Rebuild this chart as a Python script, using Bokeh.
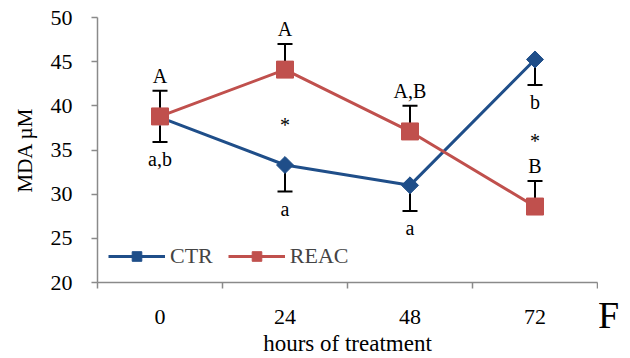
import math
from bokeh.plotting import figure
from bokeh.layouts import row
from bokeh.models import (ColumnDataSource, Range1d, FixedTicker, Whisker, TeeHead,
                          Legend, LegendItem, Label)
from bokeh.core.properties import value
from bokeh.embed import file_html
from bokeh.resources import INLINE

# ---- data ----
hours = ["0", "24", "48", "72"]
ctr = [38.7, 33.3, 31.0, 45.25]
reac = [38.8, 44.1, 37.1, 28.6]
ctr_err = [2.8, 3.0, 2.9, 2.9]
reac_err = [2.9, 2.9, 2.9, 2.9]
ctr_letters = ["a,b", "a", "a", "b"]
reac_letters = ["A", "A", "A,B", "B"]
signif = ["", "*", "", "*"]
y_ticks = [20, 25, 30, 35, 40, 45, 50]
panel_letter = "F"

FONT = "Liberation Serif"
BLUE = "#1f4e89"
RED = "#c0504d"
GRAY = "#8a8a8a"

xs = [i + 0.5 for i in range(len(hours))]

src = ColumnDataSource(dict(
    x=xs, ctr=ctr, reac=reac,
    ctr_lo=[c - e for c, e in zip(ctr, ctr_err)],
    reac_hi=[r + e for r, e in zip(reac, reac_err)],
    ctr_lab=ctr_letters, reac_lab=reac_letters,
    sig=signif, mid=[(c + r) / 2 for c, r in zip(ctr, reac)],
))

p = figure(width=598, height=358, output_backend="svg", toolbar_location=None,
           x_range=Range1d(0, len(hours)), y_range=Range1d(y_ticks[0], y_ticks[-1]),
           min_border_left=97, min_border_right=1, min_border_top=17, min_border_bottom=75)
p.outline_line_color = None
p.grid.visible = False
p.background_fill_color = "white"
p.border_fill_color = "white"

# x axis: categories at band centers, ticks at band boundaries
xa = p.xaxis[0]
xa.ticker = FixedTicker(ticks=xs, minor_ticks=list(range(len(hours) + 1)))
xa.major_label_overrides = {x: h for x, h in zip(xs, hours)}
xa.major_tick_line_color = None
xa.minor_tick_in = 0
xa.minor_tick_out = 6
xa.minor_tick_line_color = GRAY
xa.minor_tick_line_width = 1.5
xa.axis_line_color = GRAY
xa.axis_line_width = 1.5
xa.major_label_standoff = 21
xa.major_label_text_font = FONT
xa.major_label_text_font_size = "22px"
xa.major_label_text_color = "black"
xa.axis_label = "hours of treatment"
xa.axis_label_text_font = FONT
xa.axis_label_text_font_style = "normal"
xa.axis_label_text_font_size = "23px"
xa.axis_label_text_color = "black"
xa.axis_label_standoff = 4

ya = p.yaxis[0]
ya.ticker = FixedTicker(ticks=y_ticks)
ya.major_tick_in = 0
ya.major_tick_out = 6
ya.major_tick_line_color = GRAY
ya.major_tick_line_width = 1.5
ya.minor_tick_line_color = None
ya.axis_line_color = GRAY
ya.axis_line_width = 1.5
ya.major_label_standoff = 19
ya.major_label_text_font = FONT
ya.major_label_text_font_size = "22px"
ya.major_label_text_color = "black"
ya.axis_label = "MDA \u00b5M"
ya.axis_label_text_font = FONT
ya.axis_label_text_font_style = "normal"
ya.axis_label_text_font_size = "21px"
ya.axis_label_text_color = "black"
ya.axis_label_standoff = 11

# error bars (one-sided)
w_reac = Whisker(source=src, base="x", lower="reac", upper="reac_hi", dimension="height",
                 line_color="black", line_width=2, level="underlay",
                 upper_head=TeeHead(size=15, line_color="black", line_width=2), lower_head=None)
w_ctr = Whisker(source=src, base="x", lower="ctr_lo", upper="ctr", dimension="height",
                line_color="black", line_width=2, level="underlay",
                lower_head=TeeHead(size=15, line_color="black", line_width=2), upper_head=None)
p.add_layout(w_reac)
p.add_layout(w_ctr)

l_ctr = p.line("x", "ctr", source=src, line_color=BLUE, line_width=3)
l_reac = p.line("x", "reac", source=src, line_color=RED, line_width=3)
m_ctr = p.scatter("x", "ctr", source=src, marker="square", angle=math.pi / 4, size=12,
                  fill_color=BLUE, line_color=BLUE)
m_reac = p.scatter("x", "reac", source=src, marker="square", size=17,
                   fill_color=RED, line_color=RED)

# significance letters
p.text("x", "reac_hi", text="reac_lab", source=src, text_font=value(FONT),
       text_font_size="20px", text_align="center", text_baseline="alphabetic",
       y_offset=-15, text_color="black")
p.text("x", "ctr_lo", text="ctr_lab", source=src, text_font=value(FONT),
       text_font_size="20px", text_align="center", text_baseline="top",
       y_offset=6, text_color="black")
p.text("x", "mid", text="sig", source=src, text_font=value(FONT),
       text_font_size="20px", text_align="center", text_baseline="alphabetic",
       y_offset=8, text_color="black")

legend = Legend(items=[LegendItem(label="CTR", renderers=[l_ctr, m_ctr]),
                       LegendItem(label="REAC", renderers=[l_reac, m_reac])],
                location=(11, 13), orientation="horizontal",
                border_line_color=None, background_fill_alpha=0,
                padding=0, margin=0, spacing=15, label_standoff=5,
                glyph_width=57, glyph_height=24,
                label_text_font=FONT, label_text_font_size="22px",
                label_text_baseline="middle")
p.add_layout(legend)

# narrow strip to the right carrying the panel letter
pf = figure(width=32, height=358, output_backend="svg", toolbar_location=None,
            x_range=Range1d(0, 1), y_range=Range1d(0, 1),
            x_axis_location=None, y_axis_location=None,
            min_border_left=0, min_border_right=0, min_border_top=0, min_border_bottom=0)
pf.frame_align = False
pf.grid.visible = False
pf.outline_line_color = None
pf.background_fill_color = "white"
pf.border_fill_color = "white"
pf.add_layout(Label(x=10, y=44, x_units="screen", y_units="screen", text=panel_letter,
                    text_font=FONT, text_font_size="38px",
                    text_align="center", text_baseline="middle", text_color="black"))

layout = row(p, pf, spacing=0)
open("out.html", "w").write(file_html(layout, INLINE))
